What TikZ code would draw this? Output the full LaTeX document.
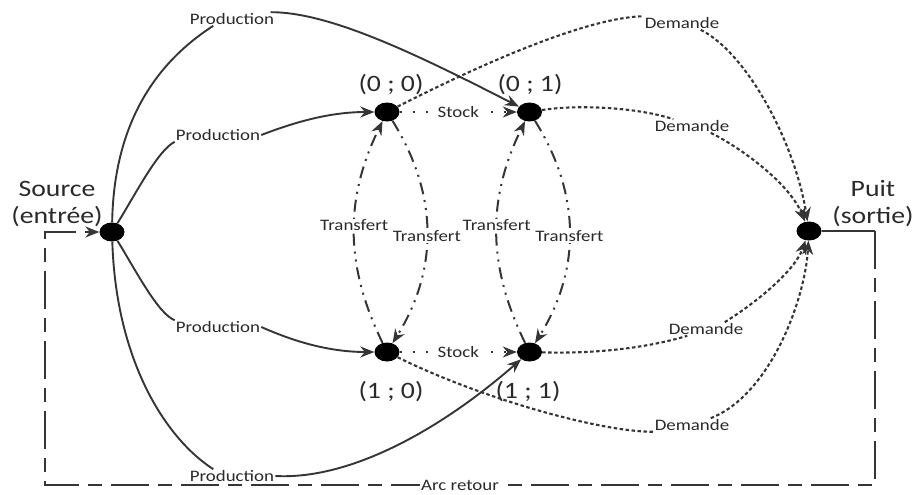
\documentclass[tikz,border=0pt]{standalone}
\usepackage{fontspec}
\setmainfont{Carlito}[FakeStretch=1.18]
\usetikzlibrary{arrows.meta,shapes.geometric}
\definecolor{ln}{HTML}{353535}
\definecolor{txt}{HTML}{2A2A2A}
\begin{document}
\begin{tikzpicture}[x=1pt,y=-1pt,
  vertex/.style={ellipse,fill=black,minimum width=25pt,minimum height=19pt,inner sep=0pt},
  lab/.style={font=\fontsize{16}{18}\selectfont,text=txt,inner sep=1pt,fill=white},
  big/.style={font=\fontsize{23.5}{27}\selectfont,text=txt,inner sep=0pt},
  tip/.style={-{Stealth[length=14pt,width=11pt]}},
  pline/.style={draw=ln,line width=1.9pt},
  parr/.style={pline,tip},
  stockline/.style={draw=ln,line width=2.2pt,dash pattern=on 2pt off 11pt,tip},
  trans/.style={draw=ln,line width=2pt,dash pattern=on 12pt off 6pt on 2pt off 6pt on 2pt off 6pt,tip},
  dem/.style={draw=ln,line width=2.1pt,dash pattern=on 3.5pt off 2.5pt},
  dema/.style={dem,tip},
  retsolid/.style={draw=ln,line width=2pt},
  retdash/.style={draw=ln,line width=2pt,dash pattern=on 38pt off 9pt on 14pt off 9pt,tip}]
\useasboundingbox (0,0) rectangle (919,495);

% vertices
\node[vertex] (S) at (112,232) {};
\node[vertex] (A) at (387,112) {};
\node[vertex] (B) at (529.5,112) {};
\node[vertex] (C) at (387,352) {};
\node[vertex] (D) at (529.5,352) {};
\node[vertex] (P) at (809,231) {};

% big labels
\node[big,align=center] (srcl) at (57,204) {Source\\(entrée)};
\node[big,align=center] (puitl) at (873,204) {Puit\\(sortie)};
\node[big] (l00) at (391,85) {(0 ; 0)};
\node[big] (l01) at (530,85) {(0 ; 1)};
\node[big] (l10) at (391,392) {(1 ; 0)};
\node[big] (l11) at (528,392) {(1 ; 1)};

% edge labels
\node[lab] (P1) at (232,19) {Production};
\node[lab] (P2) at (218,135) {Production};
\node[lab] (P3) at (218,327) {Production};
\node[lab] (P4) at (232,476) {Production};
\node[lab] (Q1) at (682,23) {Demande};
\node[lab] (Q2) at (692,126) {Demande};
\node[lab] (Q3) at (706,329) {Demande};
\node[lab] (Q4) at (692,425) {Demande};

% production
\draw[pline] (S) .. controls (114,110) and (168,55) .. (P1.200);
\draw[parr] (P1.10) .. controls (330,12) and (418,55) .. (B);
\draw[pline] (S) .. controls (135,195) and (158,150) .. (P2.south west);
\draw[parr] (P2.east) .. controls (295,122) and (330,112) .. (A);
\draw[pline] (S) .. controls (135,269) and (158,314) .. (P3.north west);
\draw[parr] (P3.east) .. controls (295,342) and (330,352) .. (C);
\draw[pline] (S) .. controls (116,360) and (165,438) .. (P4.160);
\draw[parr] (P4.east) .. controls (350,480) and (440,430) .. (D);

% stock
\draw[stockline] (A) -- node[lab] (s1) {Stock} (B);
\draw[stockline] (C) -- node[lab] (s2) {Stock} (D);

% transfert
\draw[trans] (C) to[bend left=26] node[lab,pos=0.53] (t1) {Transfert} (A);
\draw[trans] (A) to[bend left=32] node[lab,pos=0.52] (t2) {Transfert} (C);
\draw[trans] (D) to[bend left=26] node[lab,pos=0.53] (t3) {Transfert} (B);
\draw[trans] (B) to[bend left=32] node[lab,pos=0.52] (t4) {Transfert} (D);

% demande
\draw[dem] (A) .. controls (517,46) and (600,17) .. (Q1.170);
\draw[dema] (Q1.-20) .. controls (747,53) and (795,143) .. (P);
\draw[dem] (B) .. controls (580,104) and (640,108) .. (Q2.160);
\draw[dema] (Q2.-20) .. controls (745,150) and (790,185) .. (P);
\draw[dem] (D) .. controls (600,354) and (650,347) .. (Q3.200);
\draw[dema] (Q3.20) .. controls (760,300) and (795,270) .. (P);
\draw[dem] (C) .. controls (480,398) and (600,432) .. (Q4.190);
\draw[dema] (Q4.20) .. controls (770,395) and (805,300) .. (P);

% return arc
\coordinate (r1) at (875,231);
\coordinate (r2) at (875,485);
\coordinate (r3) at (45,485);
\coordinate (r4) at (45,232);
\draw[retsolid] (P) -- (r1);
\draw[retdash] (r1) -- (r2) -- node[lab,pos=0.5] (ar) {Arc retour} (r3) -- (r4) -- (S);
\end{tikzpicture}
\end{document}
